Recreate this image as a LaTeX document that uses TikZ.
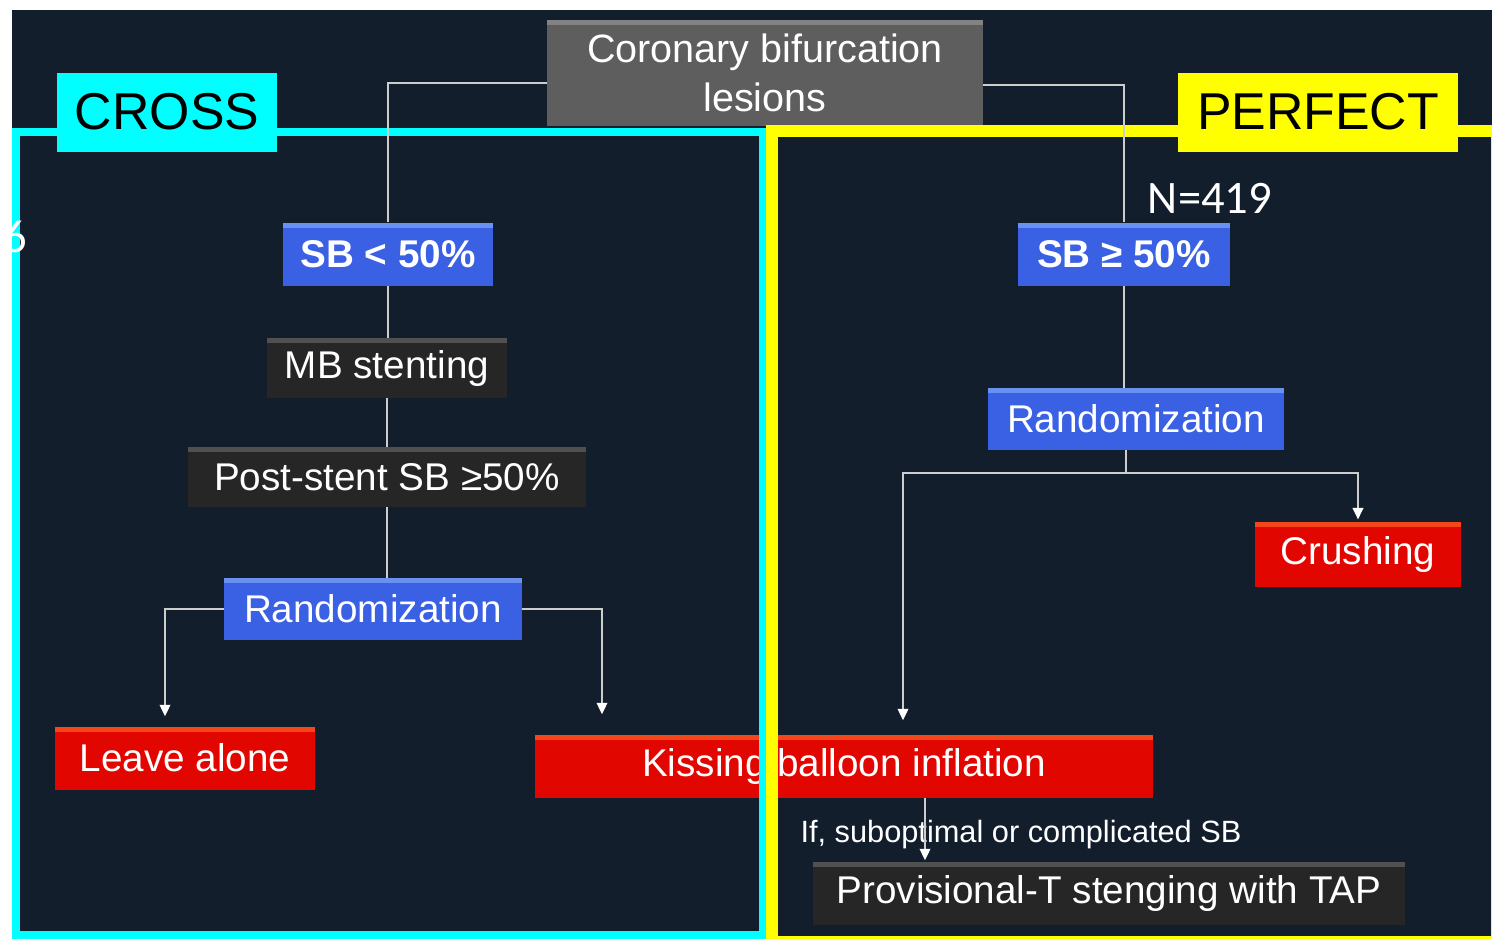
\documentclass[tikz,border=0pt]{standalone}
\usepackage{fontspec}
\setmainfont{Liberation Sans}
\newfontfamily\calfont{Carlito}
\usetikzlibrary{arrows.meta, positioning}

\definecolor{bgdark}{RGB}{19,30,45}
\definecolor{crosscyan}{RGB}{0,255,255}
\definecolor{perfyellow}{RGB}{255,255,0}
\definecolor{sbblue}{RGB}{58,96,228}
\definecolor{sbbluetop}{RGB}{105,145,242}
\definecolor{armred}{RGB}{226,6,0}
\definecolor{armredtop}{RGB}{245,70,25}
\definecolor{stepdark}{RGB}{38,38,38}
\definecolor{stepdarktop}{RGB}{80,80,80}
\definecolor{headgray}{RGB}{94,94,94}
\definecolor{headgraytop}{RGB}{130,130,130}
\definecolor{linkgray}{RGB}{205,205,205}

\newcommand{\boxfont}{\fontsize{22}{26}\selectfont}

\tikzset{
  bevel/.style={path picture={\fill[#1] (path picture bounding box.north west) rectangle ([yshift=-0.1cm]path picture bounding box.north east);}},
  box/.style={inner sep=0pt, text=white, font=\boxfont, align=center},
  bluebox/.style={box, fill=sbblue, bevel=sbbluetop},
  redbox/.style={box, fill=armred, bevel=armredtop},
  darkbox/.style={box, fill=stepdark, bevel=stepdarktop},
  tag/.style={inner sep=0pt, text=black, font=\fontsize{29.5}{32}\selectfont},
  link/.style={draw=linkgray, line width=1.1pt},
  arrow/.style={link, -{Triangle[width=6pt,length=6.5pt,color=white]}, shorten >=1pt},
}

\begin{document}
\begin{tikzpicture}[x=0.02cm, y=-0.02cm]

  \useasboundingbox (0,0) rectangle (1492,938);
  \fill[white] (0,0) rectangle (1492,938);
  \fill[bgdark] (12,10) rectangle (1492,938);

  % header
  \node[box, fill=headgray, bevel=headgraytop, font=\fontsize{22.5}{28}\selectfont,
        minimum width=8.72cm, minimum height=2.12cm] (top) at (765,73)
        {Coronary bifurcation\\lesions};

  % CROSS arm
  \node[bluebox, font=\boxfont\bfseries, minimum width=4.22cm, minimum height=1.26cm] (sbl) at (388,254) {SB < 50\%};
  \node[darkbox, minimum width=4.8cm, minimum height=1.2cm] (mb) at (387,368) {MB stenting};
  \node[darkbox, minimum width=7.98cm, minimum height=1.2cm] (post) at (387,477) {Post-stent SB ≥50\%};
  \node[bluebox, minimum width=5.96cm, minimum height=1.24cm] (randl) at (373,609) {Randomization};
  \node[redbox, minimum width=5.2cm, minimum height=1.26cm] (leave) at (185,758) {Leave alone};
  \node[redbox, minimum width=12.36cm, minimum height=1.26cm] (kiss) at (844,766) {Kissing balloon inflation};

  % PERFECT arm
  \node[bluebox, font=\boxfont\bfseries, minimum width=4.24cm, minimum height=1.26cm] (sbr) at (1124,254) {SB ≥ 50\%};
  \node[bluebox, minimum width=5.94cm, minimum height=1.24cm] (randr) at (1136,419) {Randomization};
  \node[redbox, minimum width=4.12cm, minimum height=1.3cm] (crush) at (1358,554) {Crushing};
  \node[darkbox, minimum width=11.86cm, minimum height=1.26cm] (prov) at (1109,893) {Provisional-T stenging with TAP};
  \node[anchor=base, inner sep=0pt, text=white, font=\fontsize{17.5}{20}\selectfont] (ifnote) at (1021,842)
        {If, suboptimal or complicated SB};

  % study frames
  \draw[crosscyan, line width=0.16cm] (16,132) rectangle (763,935);
  \draw[perfyellow, line width=0.25cm] (772,131) rectangle (1497,942);
  \node[tag, fill=crosscyan, minimum width=4.4cm, minimum height=1.58cm] (cross) at (167,112) {CROSS};
  \node[tag, fill=perfyellow, minimum width=5.6cm, minimum height=1.58cm] (perfect) at (1318,112) {PERFECT};

  \node[inner sep=0pt, text=white, font=\calfont\fontsize{26.5}{30}\selectfont] (nperf) at (1210,198) {N=419};
  \node[inner sep=0pt, text=white, font=\calfont\fontsize{26.5}{30}\selectfont] (ncross) at (15,237) {6};

  % connectors
  \coordinate (leavein) at (165,718);
  \coordinate (kissin) at (602,716);
  \coordinate (split) at (1126,473);
  \coordinate (kissrin) at (903,722);
  \coordinate (tapin) at (925,862);

  \draw[link] ([yshift=-0.2cm]top.west) -| (sbl.north);
  \draw[link] (sbl.south) -- (sbl.south |- mb.north);
  \draw[link] (mb.south) -- (mb.south |- post.north);
  \draw[link] (post.south) -- (post.south |- randl.north);
  \draw[arrow] (randl.west) -| (leavein);
  \draw[arrow] (randl.east) -| (kissin);

  \draw[link] ([yshift=-0.24cm]top.east) -| (sbr.north);
  \draw[link] (sbr.south) -- (sbr.south |- randr.north);
  \draw[link] (randr.south -| split) -- (split);
  \draw[arrow] (split) -| (crush.north);
  \draw[arrow] (split) -| (kissrin);
  \draw[arrow] (kiss.south -| tapin) -- (tapin);

\end{tikzpicture}
\end{document}
